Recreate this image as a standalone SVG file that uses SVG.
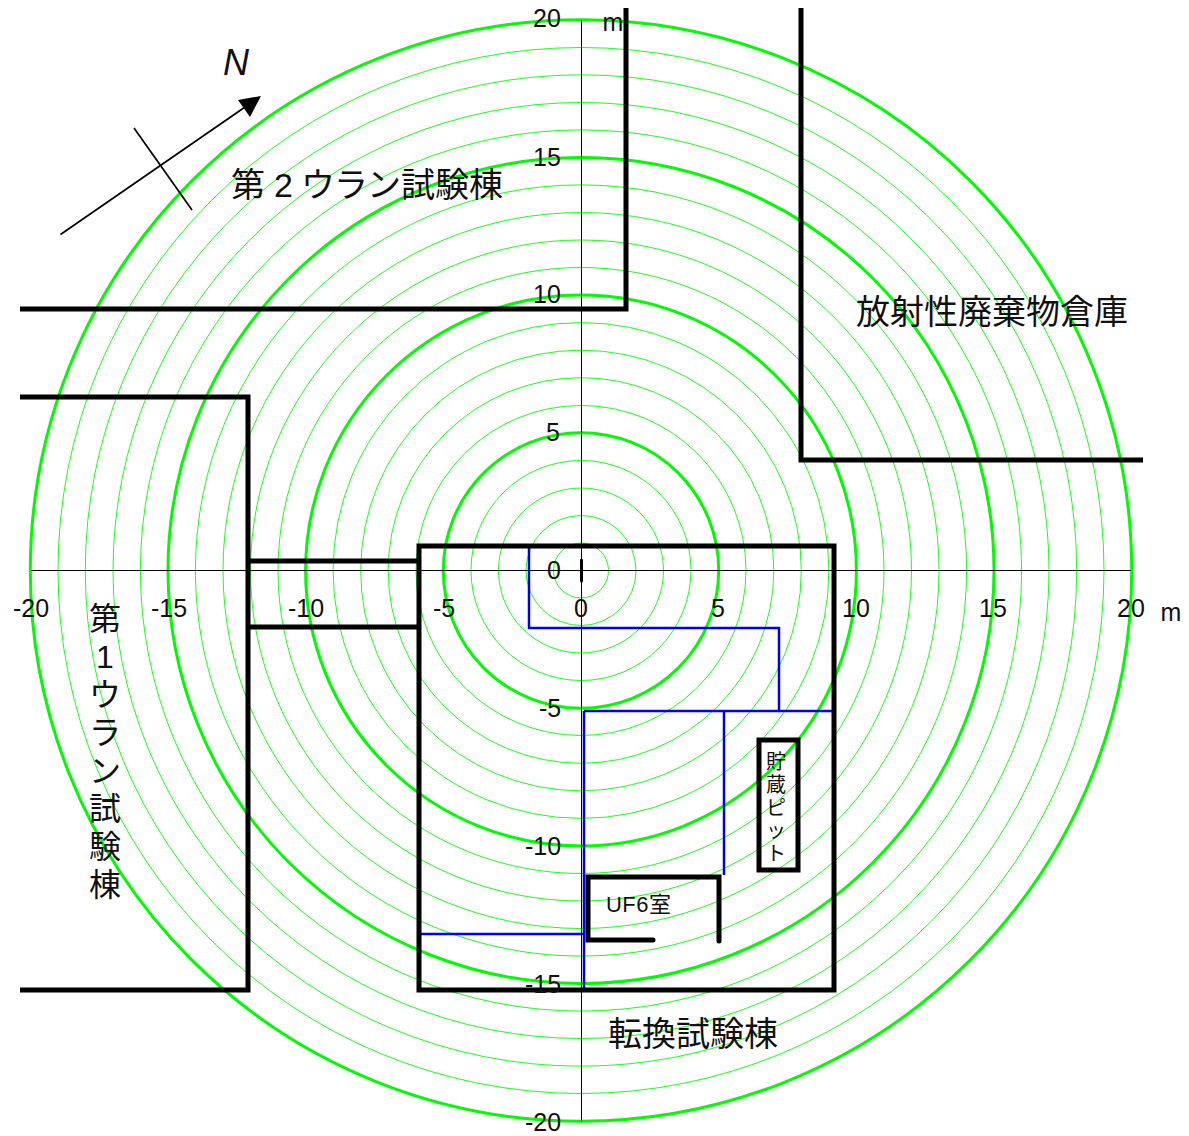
<svg xmlns="http://www.w3.org/2000/svg" width="1189" height="1136" viewBox="0 0 1189 1136">
<style>
.r{fill:none;stroke:#00ff00;stroke-width:.9}
.R{fill:none;stroke:#00fa00;stroke-width:3}
.ax{stroke:#000;stroke-width:1;fill:none}
.w{fill:none;stroke:#000;stroke-width:5;stroke-linecap:round;stroke-linejoin:miter}
.b{fill:none;stroke:#0000e6;stroke-width:2.500}
text{font-family:"Liberation Sans","Noto Sans CJK JP",sans-serif;fill:#111}
.n{font-size:25px;text-anchor:middle}
.l{font-size:34px}
.v{font-size:32px;text-anchor:middle}
.s{font-size:20px;text-anchor:middle}
</style>
<rect width="1189" height="1136" fill="#fff"/>
<g id="rings">
<circle class="r" cx="581" cy="570.500" r="27.5"/><circle class="r" cx="581" cy="570.500" r="55"/><circle class="r" cx="581" cy="570.500" r="82.500"/><circle class="r" cx="581" cy="570.500" r="110"/>
<circle class="R" cx="581" cy="570.500" r="137.700"/>
<circle class="r" cx="581" cy="570.500" r="165"/><circle class="r" cx="581" cy="570.500" r="192.800"/><circle class="r" cx="581" cy="570.500" r="220.300"/><circle class="r" cx="581" cy="570.500" r="247.900"/>
<circle class="R" cx="581" cy="570.500" r="275.400"/>
<circle class="r" cx="581" cy="570.500" r="303"/><circle class="r" cx="581" cy="570.500" r="330.500"/><circle class="r" cx="581" cy="570.500" r="358"/><circle class="r" cx="581" cy="570.500" r="385.600"/>
<circle class="R" cx="581" cy="570.500" r="413"/>
<circle class="r" cx="581" cy="570.500" r="440.600"/><circle class="r" cx="581" cy="570.500" r="468"/><circle class="r" cx="581" cy="570.500" r="495.700"/><circle class="r" cx="581" cy="570.500" r="523"/>
<circle class="R" cx="581" cy="570.500" r="550.700"/>
</g>
<g id="axes">
<path class="ax" d="M31 570.500H1131M581.500 20V1122"/>
</g>
<g id="connectors">
<path class="b" d="M529 546V628H779V711M584 711H834M584 711V990M724 711V875M419 934H584"/>
</g>
<g id="buildings">
<path class="w" style="stroke-linecap:butt" d="M20 309H626V8"/>
<path class="w" style="stroke-linecap:butt" d="M20 397H248V990H20"/>
<path class="w" style="stroke-linecap:butt" d="M248 561H418M248 627H418"/>
<rect class="w" x="419" y="546" width="415" height="444"/>
<path class="w" style="stroke-linecap:butt" d="M801 8V460H1143"/>
<path class="w" style="stroke-width:3" d="M581.500 560V581"/>
<rect class="w" x="759" y="740" width="39" height="130"/>
<path class="w" d="M653 940H588V877H719V941"/>
</g>
<g id="north">
<path d="M60.500 234.500L248 105" stroke="#000" stroke-width="1.700" fill="none"/>
<path d="M261 96L238 100L250 117Z" fill="#000"/>
<path d="M134 128L192 210" stroke="#000" stroke-width="1.700" fill="none"/>
<text x="236" y="75" font-size="36" font-style="italic" text-anchor="middle">N</text>
</g>
<g id="numbers">
<text class="n" x="547" y="27">20</text><text class="n" x="613" y="31">m</text>
<text class="n" x="547" y="166">15</text><text class="n" x="547" y="303">10</text><text class="n" x="553" y="441">5</text>
<text class="n" x="554" y="579">0</text><text class="n" x="581" y="617">0</text>
<text class="n" x="31" y="617">-20</text><text class="n" x="169" y="617">-15</text><text class="n" x="306" y="617">-10</text><text class="n" x="444" y="617">-5</text>
<text class="n" x="718" y="617">5</text><text class="n" x="856" y="617">10</text><text class="n" x="993" y="617">15</text><text class="n" x="1131" y="617">20</text><text class="n" x="1171" y="621">m</text>
<text class="n" x="550" y="717">-5</text><text class="n" x="543" y="855">-10</text><text class="n" x="543" y="993">-15</text><text class="n" x="543" y="1131">-20</text>
</g>
<g id="labels">
<text class="l" y="197" x="231 274 301 334 367 401 435 469">第2ウラン試験棟</text>
<text class="l" x="856" y="324">放射性廃棄物倉庫</text>
<text class="l" x="608" y="1046">転換試験棟</text>
<text class="v" x="105" y="630">第</text><text class="v" x="105" y="668">1</text><text class="v" x="105" y="706">ウ</text><text class="v" x="105" y="744">ラ</text><text class="v" x="105" y="782">ン</text><text class="v" x="105" y="820">試</text><text class="v" x="105" y="858">験</text><text class="v" x="105" y="896">棟</text>
<text class="s" x="776" y="769">貯</text><text class="s" x="776" y="792">蔵</text><text class="s" x="776" y="815">ピ</text><text class="s" x="776" y="838">ッ</text><text class="s" x="776" y="861">ト</text>
<text x="606" y="912" font-size="22" textLength="65">UF6室</text>
</g>
</svg>
